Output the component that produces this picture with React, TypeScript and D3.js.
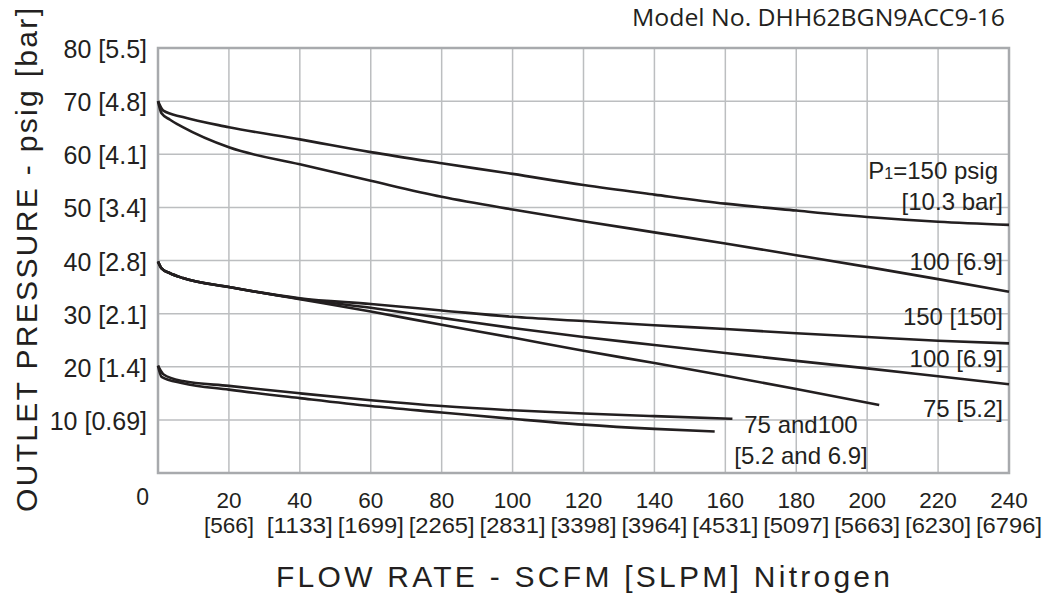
import React from "react";
import * as d3 from "d3";

const xTicks = [0, 20, 40, 60, 80, 100, 120, 140, 160, 180, 200, 220, 240];
const slpmLabels = ["", "[566]", "[1133]", "[1699]", "[2265]", "[2831]", "[3398]", "[3964]", "[4531]", "[5097]", "[5663]", "[6230]", "[6796]"];
const yTicks = [10, 20, 30, 40, 50, 60, 70, 80];
const yLabels = ["10 [0.69]", "20 [1.4]", "30 [2.1]", "40 [2.8]", "50 [3.4]", "60 [4.1]", "70 [4.8]", "80 [5.5]"];

// flow (SCFM), outlet pressure (psig)
const top150: [number, number][] = [[0, 70], [1.5, 68.2], [7, 67.0], [20, 65.1], [40, 62.8], [60, 60.4], [80, 58.3], [100, 56.3], [120, 54.2], [140, 52.4], [160, 50.7], [180, 49.4], [200, 48.2], [220, 47.3], [240, 46.7]];
const top100: [number, number][] = [[0, 70], [1, 67.7], [3.4, 66.5], [7, 65.1], [20, 61.3], [40, 58.1], [60, 55.0], [80, 52.0], [100, 49.6], [120, 47.4], [140, 45.3], [160, 43.2], [180, 41.0], [200, 38.8], [220, 36.5], [240, 34.1]];
const mid150: [number, number][] = [[0, 39.8], [1, 38.5], [3.4, 37.6], [7, 36.7], [20, 35.0], [40, 32.9], [60, 31.8], [80, 30.6], [100, 29.4], [120, 28.6], [140, 27.8], [160, 27.1], [180, 26.3], [200, 25.6], [220, 24.9], [240, 24.4]];
const mid100: [number, number][] = [[0, 39.8], [1, 38.5], [3.4, 37.6], [7, 36.7], [20, 35.0], [40, 32.8], [60, 31.1], [80, 29.2], [100, 27.3], [120, 25.6], [140, 24.1], [160, 22.6], [180, 21.1], [200, 19.7], [220, 18.2], [240, 16.7]];
const mid75: [number, number][] = [[0, 39.8], [1, 38.5], [3.4, 37.6], [7, 36.7], [20, 35.0], [40, 32.7], [60, 30.4], [80, 27.9], [100, 25.5], [120, 23.0], [140, 20.7], [160, 18.3], [180, 15.8], [203.4, 12.8]];
const low100: [number, number][] = [[0, 20.2], [1.5, 18.6], [7, 17.3], [20, 16.4], [40, 15.0], [60, 13.7], [80, 12.6], [100, 11.8], [120, 11.2], [140, 10.7], [162, 10.2]];
const low75: [number, number][] = [[0, 20.2], [1, 18.1], [7, 16.9], [20, 15.7], [40, 14.1], [60, 12.6], [80, 11.4], [100, 10.2], [120, 9.1], [140, 8.3], [157, 7.8]];

const series = [top150, top100, mid150, mid100, mid75, low100, low75];

export default function App() {
  const W = 1051, H = 595;
  const x = d3.scaleLinear().domain([0, 240]).range([158, 1009]);
  const y = d3.scaleLinear().domain([0, 80]).range([473, 48]);
  const line = d3.line<[number, number]>().x(d => x(d[0])).y(d => y(d[1])).curve(d3.curveMonotoneX);
  const ink = "#231f20";
  const grid = "#bcbec0";
  const sans = "'Liberation Sans', Arial, sans-serif";

  return (
    <svg width={W} height={H} style={{ position: "absolute", left: 0, top: 0, background: "#fff" }}>
      <rect x={0} y={0} width={W} height={H} fill="#fff" />
      {xTicks.map(t => (
        <line key={"gx" + t} x1={x(t)} x2={x(t)} y1={y(80)} y2={y(0)} stroke={grid} strokeWidth={1.5} />
      ))}
      {[0, ...yTicks].map(t => (
        <line key={"gy" + t} x1={x(0)} x2={x(240)} y1={y(t)} y2={y(t)} stroke={grid} strokeWidth={1.5} />
      ))}
      <rect x={x(0)} y={y(80)} width={x(240) - x(0)} height={y(0) - y(80)} fill="none" stroke="#a8aaad" strokeWidth={2.5} />

      {series.map((s, i) => (
        <path key={"s" + i} d={line(s) || ""} fill="none" stroke={ink} strokeWidth={2.6} strokeLinecap="butt" />
      ))}

      {yTicks.map((t, i) => (
        <text key={"yl" + t} x={147} y={y(t) + 10} textAnchor="end" fontFamily={sans} fontSize={25} fill={ink}>{yLabels[i]}</text>
      ))}

      <text x={x(0) - 9} y={505} textAnchor="end" fontFamily={sans} fontSize={23} fill={ink}>0</text>
      {xTicks.slice(1).map((t, i) => (
        <g key={"xl" + t}>
          <text x={x(t)} y={508} textAnchor="middle" fontFamily={sans} fontSize={22.5} fill={ink}>{t}</text>
          <text x={x(t)} y={533} textAnchor="middle" fontFamily={sans} fontSize={22.5} fill={ink} textLength={slpmLabels[i + 1].length > 5 ? 66 : undefined} lengthAdjust="spacingAndGlyphs">{slpmLabels[i + 1]}</text>
        </g>
      ))}

      <text x={276} y={587} fontFamily={sans} fontSize={30} fill={ink} textLength={614} lengthAdjust="spacing">FLOW RATE - SCFM [SLPM] Nitrogen</text>
      <text transform="translate(36.7,512) rotate(-90)" fontFamily={sans} fontSize={30} fill={ink} textLength={504} lengthAdjust="spacing">OUTLET PRESSURE - psig [bar]</text>

      <text x={1005} y={26} textAnchor="end" fontFamily="'Open Sans', sans-serif" fontSize={23} fill={ink} textLength={373} lengthAdjust="spacingAndGlyphs">Model No. DHH62BGN9ACC9-16</text>

      <text x={998} y={179} textAnchor="end" fontFamily={sans} fontSize={24} fill={ink}>
        P<tspan fontSize={16}>1</tspan>=150 psig
      </text>
      <text x={1003} y={210} textAnchor="end" fontFamily={sans} fontSize={24} fill={ink}>[10.3 bar]</text>
      <text x={1003} y={270} textAnchor="end" fontFamily={sans} fontSize={24} fill={ink}>100 [6.9]</text>
      <text x={1003} y={325} textAnchor="end" fontFamily={sans} fontSize={24} fill={ink}>150 [150]</text>
      <text x={1003} y={367} textAnchor="end" fontFamily={sans} fontSize={24} fill={ink}>100 [6.9]</text>
      <text x={1003} y={417} textAnchor="end" fontFamily={sans} fontSize={24} fill={ink}>75 [5.2]</text>
      <text x={801} y={433} textAnchor="middle" fontFamily={sans} fontSize={24} fill={ink}>75 and100</text>
      <text x={801} y={464} textAnchor="middle" fontFamily={sans} fontSize={24} fill={ink}>[5.2 and 6.9]</text>
    </svg>
  );
}
